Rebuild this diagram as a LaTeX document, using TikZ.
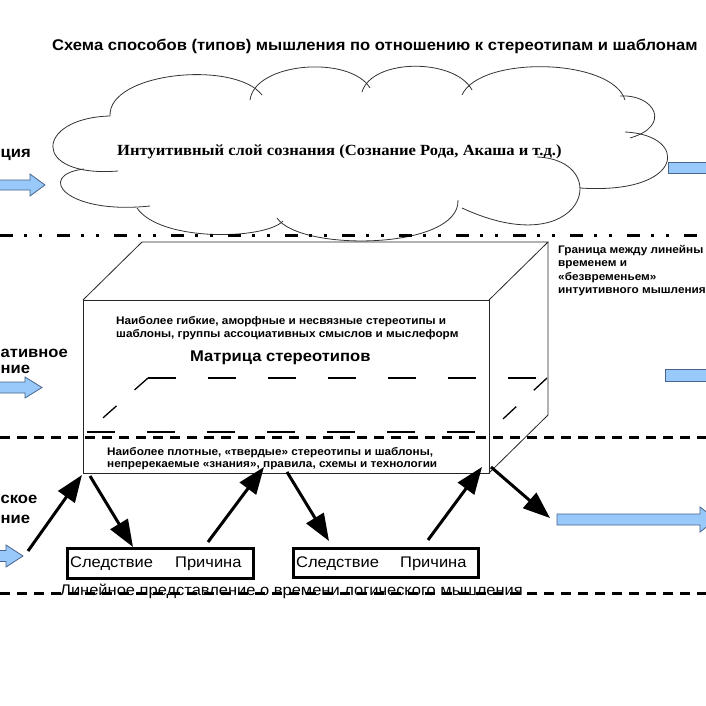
\documentclass[tikz,border=0pt]{standalone}
\usepackage{fontspec}
\setmainfont[FakeStretch=1.07]{Liberation Sans}
\newfontfamily\serifbold[FakeStretch=1.07]{Liberation Serif}
\usetikzlibrary{arrows.meta}
\definecolor{arrfill}{RGB}{153,201,250}
\definecolor{arrdraw}{RGB}{70,100,140}
\begin{document}
\begin{tikzpicture}[x=1pt,y=-1pt,
  lbl/.style={font=\bfseries\fontsize{15.5}{18}\selectfont, inner sep=0, anchor=base west},
  boxtxt/.style={font=\bfseries\fontsize{11}{13}\selectfont, inner sep=0, anchor=base west},
  sidetxt/.style={font=\bfseries\fontsize{11}{13.5}\selectfont, inner sep=0, anchor=base west},
  plain/.style={font=\fontsize{15.4}{18}\selectfont, inner sep=0, anchor=base west},
  bluearrow/.style={fill=arrfill, draw=arrdraw, line width=0.8pt},
  cloudline/.style={draw=black!80, line width=0.8pt},
  edge/.style={line width=0.8pt, draw=black!85},
  hidden/.style={line width=1.3pt, dash pattern=on 28pt off 32pt},
  hiddendiag/.style={line width=1.3pt, dash pattern=on 18pt off 24pt},
  ddline/.style={line width=3pt, dash pattern=on 13pt off 11pt on 3pt off 12pt on 3pt off 15pt},
  dline/.style={line width=3pt, dash pattern=on 10pt off 7pt},
  blackarrow/.style={line width=3pt, -{Triangle[length=27pt,width=20pt]}},
  spbox/.style={draw, line width=3pt, inner sep=0}]
\useasboundingbox (0,0) rectangle (706,706);
\clip (0,0) rectangle (706,706);
\fill[white] (0,0) rectangle (706,706);

% title
\node[font=\bfseries\fontsize{15.5}{18}\selectfont, inner sep=0, anchor=base west] (title) at (52,51)
  {Схема способов (типов) мышления по отношению к стереотипам и шаблонам};

% cloud (drawn lobe by lobe)
\draw[cloudline] (110,116) .. controls (108,72) and (235,60) .. (262,95);
\draw[cloudline] (250,100) .. controls (255,62) and (350,55) .. (370,88);
\draw[cloudline] (362,92) .. controls (372,58) and (455,58) .. (472,90);
\draw[cloudline] (462,95) .. controls (480,55) and (612,58) .. (625,100);
\draw[cloudline] (620,96) .. controls (655,94) and (672,126) .. (630,138);
\draw[cloudline] (625,132) .. controls (690,135) and (685,195) .. (580,188);
\draw[cloudline] (537,157) .. controls (615,160) and (585,265) .. (462,208);
\draw[cloudline] (458,200) .. controls (460,250) and (300,252) .. (277,218);
\draw[cloudline] (283,221) .. controls (265,240) and (160,242) .. (137,208);
\draw[cloudline] (150,206) .. controls (65,215) and (35,175) .. (84,169);
\draw[cloudline] (118,171) .. controls (30,178) and (35,118) .. (110,116);
\node[font=\serifbold\bfseries\fontsize{15.5}{18}\selectfont, inner sep=0, anchor=base west] (cloudtxt) at (117,155)
  {Интуитивный слой сознания (Сознание Рода, Акаша и т.д.)};

% separator lines
\coordinate (dd1) at (0,235); \coordinate (dd2) at (706,235);
\draw[ddline] (dd1) -- (dd2);
\coordinate (dl1) at (0,437); \coordinate (dl2) at (706,437);
\coordinate (db1) at (0,593); \coordinate (db2) at (706,593);

% cuboid
\coordinate (fa) at (83,300); \coordinate (fb) at (489,300);
\coordinate (fc) at (489,473); \coordinate (fd) at (83,473);
\coordinate (ba) at (142,242); \coordinate (bb) at (548,242);
\coordinate (bc) at (548,415);
\draw[edge] (fa) -- (fb) -- (fc) -- (fd) -- cycle;
\draw[edge] (fa) -- (ba) -- (bb) -- (fb);
\draw[edge] (bb) -- (bc) -- (fc);
% inner hidden plane
\coordinate (ha) at (148,378); \coordinate (hb) at (547,378);
\coordinate (hc) at (489,432); \coordinate (hd) at (87,432);
\draw[hidden] (ha) -- (hb);
\draw[hidden] (hd) -- (hc);
\draw[hiddendiag] (ha) -- (hd);
\draw[hiddendiag] (hb) -- (hc);

\draw[dline] (dl1) -- (dl2);

% texts in cuboid
\node[boxtxt] (t1) at (116,324) {Наиболее гибкие, аморфные и несвязные стереотипы и};
\node[boxtxt] (t2) at (116,337) {шаблоны, группы ассоциативных смыслов и мыслеформ};
\node[font=\bfseries\fontsize{15.5}{18}\selectfont, inner sep=0, anchor=base west] (matrix) at (190,361) {Матрица стереотипов};
\node[boxtxt] (t3) at (107,455) {Наиболее плотные, «твердые» стереотипы и шаблоны,};
\node[boxtxt] (t4) at (107,467) {непререкаемые «знания», правила, схемы и технологии};

% right label
\node[sidetxt] (r1) at (558,253) {Граница между линейны};
\node[sidetxt] (r2) at (558,266.5) {временем и};
\node[sidetxt] (r3) at (558,280) {«безвременьем»};
\node[sidetxt] (r4) at (558,293.5) {интуитивного мышления};

% left labels (ends of labels cut by the frame)
\node[lbl] (l1) at (0.5,157) {ция};
\node[lbl] (l2) at (0.5,357) {ативное};
\node[lbl] (l3) at (0.5,373) {ние};
\node[lbl] (l4) at (0.5,503) {ское};
\node[lbl] (l5) at (0.5,523) {ние};

% blue arrows left
\draw[bluearrow] (-5,180) -- (30,180) -- (30,174) -- (45,185) -- (30,196) -- (30,190) -- (-5,190) -- cycle;
\draw[bluearrow] (-5,382) -- (25,382) -- (25,377) -- (42,387.5) -- (25,398) -- (25,393) -- (-5,393) -- cycle;
\draw[bluearrow] (-5,550.5) -- (6,550.5) -- (6,545) -- (23,556) -- (6,567) -- (6,561.5) -- (-5,561.5) -- cycle;
% blue arrows right
\draw[bluearrow] (668,162) rectangle (712,173);
\draw[bluearrow] (665,369) rectangle (712,381);
\draw[bluearrow] (557,514) -- (700,514) -- (700,507) -- (716,519.5) -- (700,532) -- (700,525) -- (557,525) -- cycle;

% consequence / cause boxes
\node[spbox, minimum width=186pt, minimum height=30pt] (sp1) at (160,563) {};
\node[spbox, minimum width=185pt, minimum height=29pt] (sp2) at (385.5,562.5) {};
\node[plain] (s1) at (70,567) {Следствие};
\node[plain] (c1) at (175,567) {Причина};
\node[plain] (s2) at (296,567) {Следствие};
\node[plain] (c2) at (400,567) {Причина};

% bottom line and caption
\draw[dline] (db1) -- (db2);
\node[plain] (cap) at (60,595) {Линейное представление о времени логического мышления};

% black arrows
\coordinate (a1s) at (28,551); \coordinate (a1e) at (82,475);
\coordinate (a2s) at (90,476); \coordinate (a2e) at (133,547);
\coordinate (a3s) at (208,542); \coordinate (a3e) at (264,467);
\coordinate (a4s) at (287,472); \coordinate (a4e) at (329,541);
\coordinate (a5s) at (428,540); \coordinate (a5e) at (482,467);
\coordinate (a6s) at (491,467); \coordinate (a6e) at (550,518);
\draw[blackarrow] (a1s) -- (a1e);
\draw[blackarrow] (a2s) -- (a2e);
\draw[blackarrow] (a3s) -- (a3e);
\draw[blackarrow] (a4s) -- (a4e);
\draw[blackarrow] (a5s) -- (a5e);
\draw[blackarrow] (a6s) -- (a6e);
\end{tikzpicture}
\end{document}
